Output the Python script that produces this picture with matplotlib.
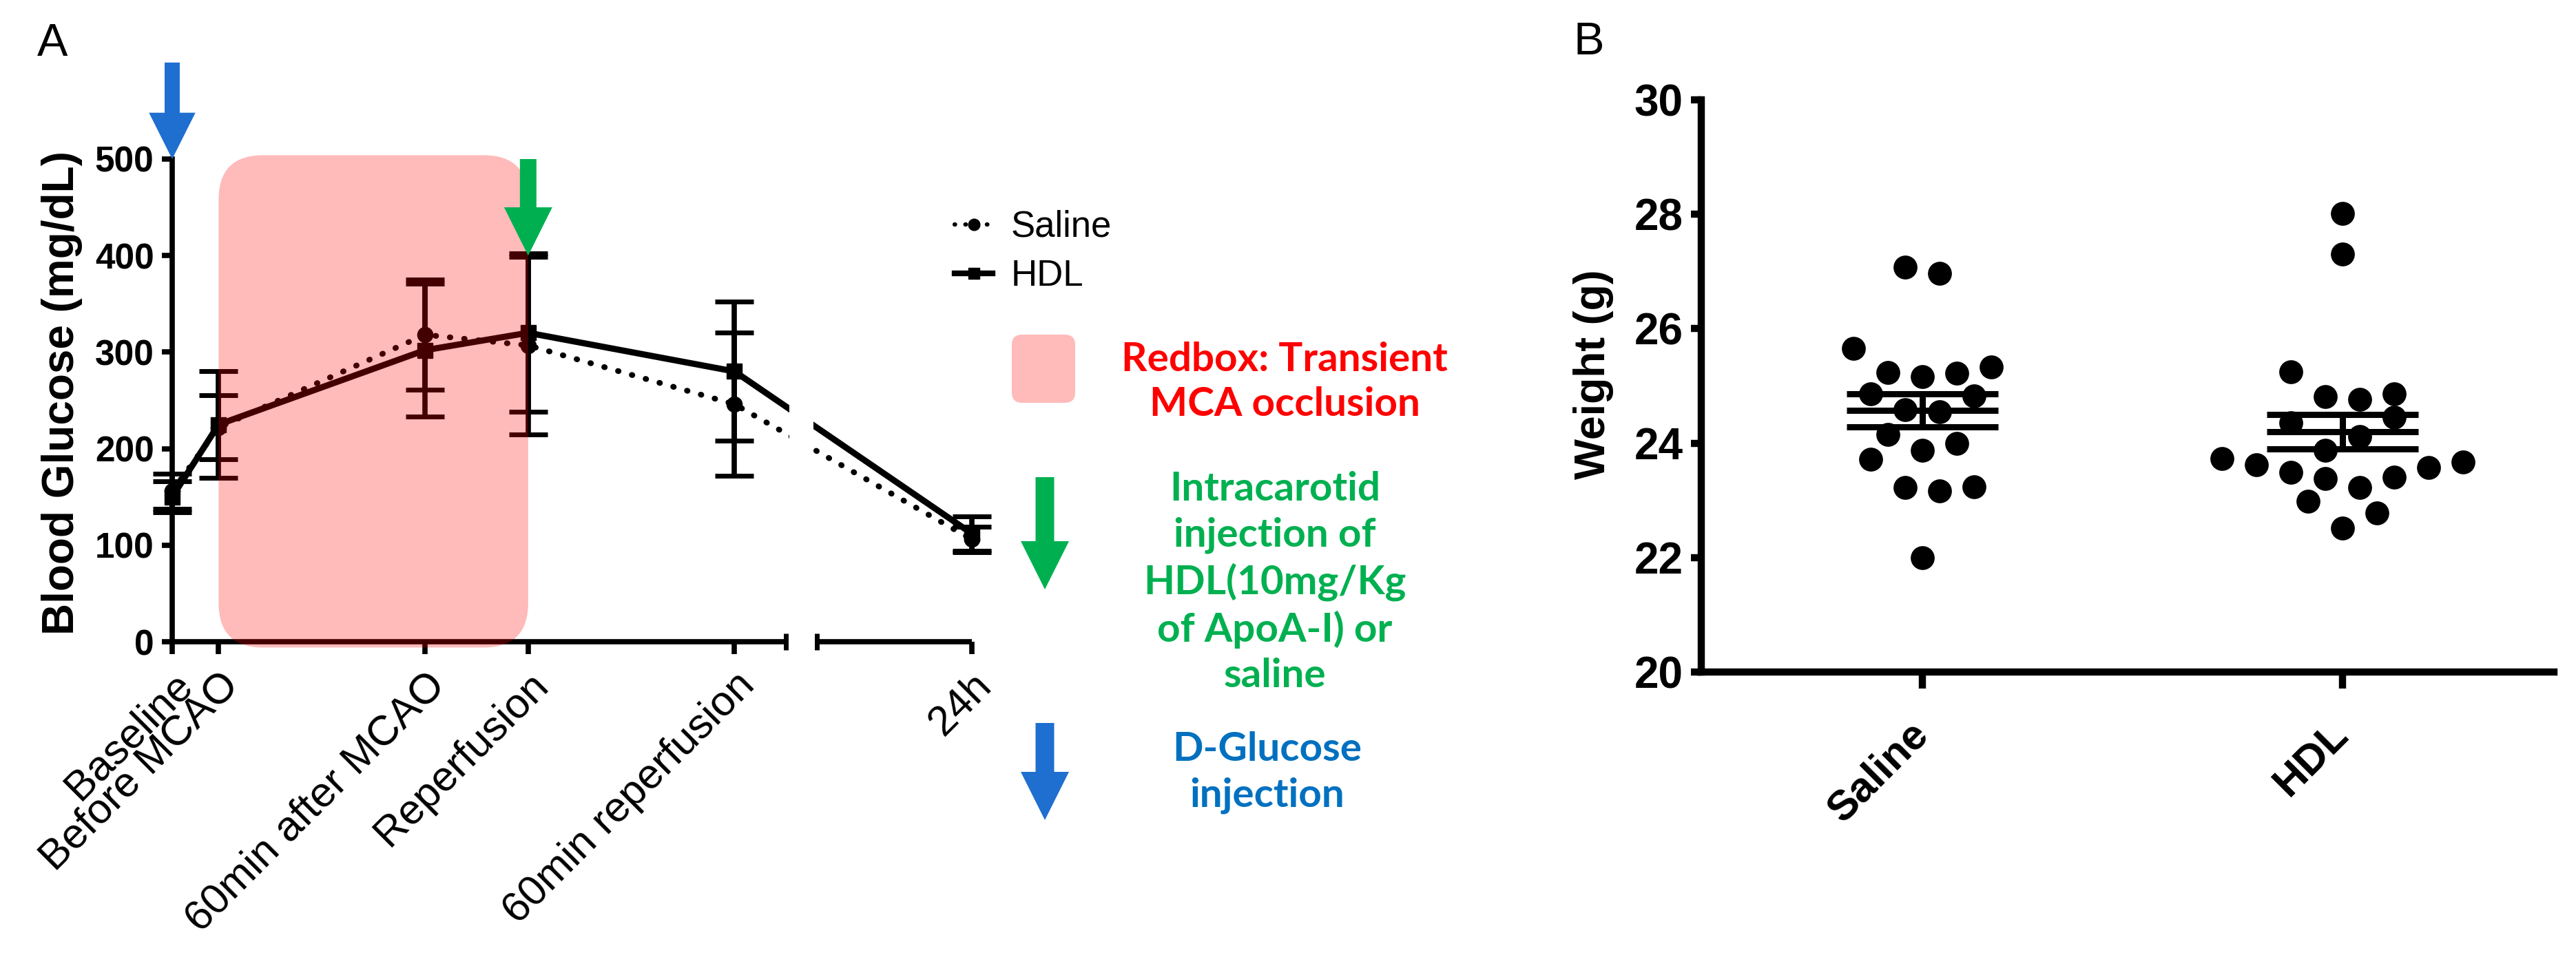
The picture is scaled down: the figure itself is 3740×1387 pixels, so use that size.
import numpy as np
import matplotlib
matplotlib.use("Agg")
import matplotlib.pyplot as plt
from matplotlib.patches import FancyBboxPatch, FancyArrow
from matplotlib.lines import Line2D

plt.rcParams['font.family'] = ['Liberation Sans', 'DejaVu Sans']

# === Panel A: blood glucose (mg/dL), mean +/- SEM ===
time_labels = ["Baseline", "Before MCAO", "60min after MCAO", "Reperfusion",
               "60min reperfusion", "24h"]
time_min = [-13.5, 0, 60, 90, 150, 1440]
saline_glu = [156, 222, 318, 307, 246, 106]
saline_sem = [18, 33, 57, 92, 74, 13]
hdl_glu = [150, 225, 302, 320, 280, 112]
hdl_sem = [16, 55, 69, 82, 72, 18]

occlusion_window = (0, 90)      # transient MCA occlusion (min)
glucose_inj_time = -13.5        # D-glucose injection
hdl_inj_time = 90               # intracarotid HDL / saline injection

# === Panel B: body weight (g) ===
weight_groups = ["Saline", "HDL"]
saline_wt = [27.08, 26.97, 25.66, 25.24, 25.16, 25.22, 25.33, 24.86, 24.58, 24.55,
             24.83, 24.15, 23.87, 23.99, 23.72, 23.23, 23.17, 23.24, 22.00]
hdl_wt = [28.01, 27.30, 25.25, 24.81, 24.77, 24.86, 24.36, 23.88, 24.12, 24.45,
          23.73, 23.62, 23.49, 23.38, 23.23, 23.41, 23.57, 23.67, 22.99, 22.51, 22.78]

# === broken time axis: linear up to 165 min, compressed afterwards ===
BREAK_AT = 165.0
SEG2 = 54.0
T_END = 1440.0
ratio = SEG2 / (T_END - BREAK_AT)


def fwd(x):
    x = np.asarray(x, dtype=float)
    return np.where(x <= BREAK_AT, x, BREAK_AT + (x - BREAK_AT) * ratio)


def inv(y):
    y = np.asarray(y, dtype=float)
    return np.where(y <= BREAK_AT, y, BREAK_AT + (y - BREAK_AT) / ratio)


def row_offsets(values, window=0.6, step=0.082):
    # prism-like scatter: bin values into rows, spread each row around the centre
    v = np.asarray(values)
    order = np.argsort(v, kind="stable")
    offs = np.zeros(len(v))
    i = 0
    while i < len(order):
        lo = v[order[i]]
        n = 1
        while i + n < len(order) and v[order[i + n]] < lo + window:
            n += 1
        row = sorted(order[i:i + n])
        for k, j in enumerate(row):
            offs[j] = (k - (n - 1) / 2) * step
        i += n
    return offs


W, H = 3741, 1387
fig = plt.figure(figsize=(W / 100, H / 100), dpi=100)

# ---------------- Panel A ----------------
ax = fig.add_axes([250 / W, 1 - 932 / H, (1411 - 250) / W, (932 - 231) / H])
ax.set_xscale('function', functions=(fwd, inv))

dot_ls = (0, (0.1, 2.4))
ax.plot(time_min, saline_glu, color='k', lw=6, ls=dot_ls, dash_capstyle='round', zorder=2)
ax.plot(time_min, hdl_glu, color='k', lw=6.5, ls='-', zorder=2)
for vals, errs, mk in [(saline_glu, saline_sem, 'o'), (hdl_glu, hdl_sem, 's')]:
    eb = ax.errorbar(time_min, vals, yerr=errs, fmt=mk, color='k', ms=16,
                     elinewidth=5.5, capsize=20, capthick=5, zorder=3)
    for art in eb.lines[1] + eb.lines[2] + (eb.lines[0],):
        art.set_clip_on(False)

# gap in the lines at the axis break
gap_lo = float(inv(BREAK_AT + 1))
gap_hi = float(inv(BREAK_AT + 8))
ax.axvspan(gap_lo, gap_hi, color='white', zorder=4, lw=0)

ax.set_xlim(time_min[0], T_END)
ax.set_ylim(0, 500)
ax.set_yticks(range(0, 501, 100))
ax.set_xticks(time_min)
ax.set_xticklabels(time_labels, rotation=45, ha='right', va='top',
                   rotation_mode='anchor', fontsize=44)
ax.minorticks_off()
for lab in ax.get_yticklabels():
    lab.set_fontweight('bold')
ax.tick_params(axis='y', labelsize=37, length=11, width=5.5, pad=8)
ax.tick_params(axis='x', length=13, width=5.5, pad=12)
ax.spines[['top', 'right', 'bottom']].set_visible(False)
ax.spines['left'].set_linewidth(5.5)

# hand drawn bottom axis with break
brk_end = float(inv(BREAK_AT + 9))
ax.plot([time_min[0], BREAK_AT], [0, 0], color='k', lw=5.5, clip_on=False,
        solid_capstyle='butt', zorder=3)
ax.plot([brk_end, T_END], [0, 0], color='k', lw=5.5, clip_on=False,
        solid_capstyle='butt', zorder=3)
ax.plot([BREAK_AT, brk_end], [0, 0], ls='none', marker='|', ms=17, mew=5,
        color='k', clip_on=False, zorder=3)

ax.set_ylabel("Blood Glucose (mg/dL)", fontsize=46, fontweight='bold')
ax.yaxis.set_label_coords(-0.112, 0.516)

# occlusion box
box = FancyBboxPatch((occlusion_window[0], -6), occlusion_window[1] - occlusion_window[0], 510,
                     boxstyle="round,pad=0,rounding_size=13", mutation_aspect=46 / 13,
                     fc='red', ec='none', alpha=0.27, zorder=5, clip_on=False)
ax.add_patch(box)

# injection arrows
ax.add_patch(FancyArrow(glucose_inj_time, 600, 0, -100, width=4.4, head_width=13.5,
                        head_length=48, length_includes_head=True, color='#1f6fd0',
                        lw=0, clip_on=False, zorder=6))
ax.add_patch(FancyArrow(hdl_inj_time, 500, 0, -100, width=4.8, head_width=14,
                        head_length=50, length_includes_head=True, color='#00b050',
                        lw=0, clip_on=False, zorder=6))

# legend
handles = [Line2D([], [], color='k', ls=dot_ls, lw=4.5, dash_capstyle='round', marker='o', ms=12),
           Line2D([], [], color='k', ls='-', lw=6, marker='s', ms=12)]
fig.legend(handles, ["Saline", "HDL"], loc='upper left',
           bbox_to_anchor=(1386 / W, 1 - 305 / H), frameon=False, fontsize=38,
           handlelength=1.05, handletextpad=0.5, labelspacing=0.4, borderpad=0,
           borderaxespad=0)

# key: red box, green arrow, blue arrow
fig.add_artist(FancyBboxPatch((1469 / W, 1 - 585 / H), 92 / W, 99 / H,
                              boxstyle="round,pad=0,rounding_size=0.004",
                              mutation_aspect=W / H, transform=fig.transFigure,
                              fc='red', ec='none', alpha=0.27))
fig.text(1865 / W, 1 - 555 / H, "Redbox: Transient\nMCA occlusion", color='#ff0000',
         fontsize=42, fontweight='bold', family=['Lato', 'DejaVu Sans'],
         ha='center', va='center', linespacing=1.3)
fig.add_artist(FancyArrow(1517 / W, 1 - 693 / H, 0, -(856 - 693) / H, width=27 / W,
                          head_width=70 / W, head_length=70 / H, length_includes_head=True,
                          transform=fig.transFigure, color='#00b050', lw=0))
fig.text(1851 / W, 1 - 846 / H,
         "Intracarotid\ninjection of\nHDL(10mg/Kg\nof ApoA-I) or\nsaline",
         color='#00b050', fontsize=42, fontweight='bold', family=['Lato', 'DejaVu Sans'],
         ha='center', va='center', linespacing=1.3)
fig.add_artist(FancyArrow(1517 / W, 1 - 1050 / H, 0, -(1191 - 1050) / H, width=27 / W,
                          head_width=70 / W, head_length=70 / H, length_includes_head=True,
                          transform=fig.transFigure, color='#1f6fd0', lw=0))
fig.text(1840 / W, 1 - 1122 / H, "D-Glucose\ninjection", color='#0070c0',
         fontsize=42, fontweight='bold', family=['Lato', 'DejaVu Sans'],
         ha='center', va='center', linespacing=1.3)

fig.text(76 / W, 1 - 64 / H, "A", fontsize=48, ha='center', va='center')
fig.text(2307 / W, 1 - 62 / H, "B", fontsize=48, ha='center', va='center')

# ---------------- Panel B ----------------
bx = fig.add_axes([2470 / W, 1 - 976 / H, (3708 - 2470) / W, (976 - 145) / H])
half = 0.18
for i, vals in enumerate([saline_wt, hdl_wt]):
    vals = np.asarray(vals)
    xs = i + row_offsets(vals)
    bx.plot(xs, vals, 'o', color='k', ms=25, mew=0, zorder=3)
    m = vals.mean()
    sem = vals.std(ddof=1) / np.sqrt(len(vals))
    bx.hlines([m - sem, m, m + sem], i - half, i + half, color='k', lw=6.5, zorder=4)
    bx.vlines(i, m - sem, m + sem, color='k', lw=6.5, zorder=4)

bx.set_xlim(-0.526, 1.503)
bx.set_ylim(20, 30)
bx.set_yticks(range(20, 31, 2))
bx.set_xticks([0, 1])
bx.set_xticklabels(weight_groups, rotation=45, ha='right', va='center',
                   rotation_mode='anchor', fontsize=44, fontweight='bold')
for lab in bx.get_yticklabels():
    lab.set_fontweight('bold')
bx.tick_params(axis='y', labelsize=46, length=11, width=7.5, pad=8)
bx.tick_params(axis='x', length=17, width=7.5, pad=42)
bx.spines[['top', 'right']].set_visible(False)
bx.spines[['left', 'bottom']].set_linewidth(7.5)
bx.set_ylabel("Weight (g)", fontsize=45, fontweight='bold')
bx.yaxis.set_label_coords(-0.1026, 0.52)

fig.savefig("out.png", dpi=100)
